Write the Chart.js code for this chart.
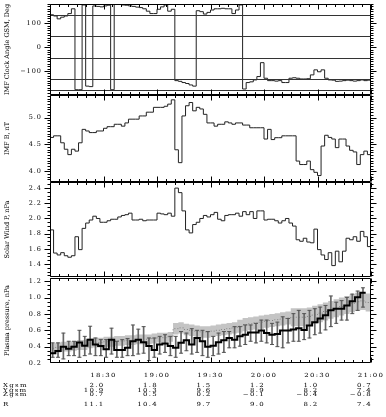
<!DOCTYPE html>
<html><head><meta charset="utf-8">
<script src="https://cdn.jsdelivr.net/npm/chart.js@4.4.1/dist/chart.umd.min.js"></script>
<style>
html,body{margin:0;padding:0;background:#fff;width:386px;height:417px;overflow:hidden;}
.c{position:absolute;left:0;width:386px;}
.t{position:absolute;font-family:"DejaVu Serif";font-size:7px;letter-spacing:1.3px;line-height:7px;height:7px;white-space:nowrap;color:#000;transform:scaleY(0.8);}
</style></head><body>
<div id="wrap" style="position:relative;width:386px;height:417px;">
<div class="c" style="top:0;height:100px"><canvas id="c1"></canvas></div>
<div class="c" style="top:91px;height:95px"><canvas id="c2"></canvas></div>
<div class="c" style="top:178px;height:103px"><canvas id="c3"></canvas></div>
<div class="c" style="top:273px;height:95px"><canvas id="c4"></canvas></div>
</div>
<script>
// ---------- DATA ----------
// time axis: minutes after 18:00
const timeTickMinutes = [30, 60, 90, 120, 150, 180];
const timeTickLabels = ['18:30', '19:00', '19:30', '20:00', '20:30', '21:00'];
const rowNames = ['Xgsm', 'Ygsm', 'Zgsm', 'R'];
const xgsm = ['2.0', '1.8', '1.5', '1.2', '1.0', '0.7'];
const ygsm = ['10.9', '10.3', '9.6', '8.9', '8.2', '7.4'];
const zgsm = ['0.7', '0.5', '0.2', '\u22120.1', '\u22120.4', '\u22120.8'];
const rdist = ['11.1', '10.4', '9.7', '9.0', '8.2', '7.4'];

// 2-minute samples, 18:00 - 21:00
const clockAngle = [135,130,118,125,130,140,160,-178,-178,176,-163,-165,172,170,168,172,175,-178,178,178,
  176,175,172,170,167,165,160,150,140,140,158,168,176,150,158,-140,-143,-148,-152,-158,
  -163,152,148,138,145,155,160,160,162,160,160,140,155,176,-175,-148,-145,-137,-123,-65,
  -130,-140,-140,-142,-140,-148,-148,-130,-128,-130,-133,-133,-132,-116,-95,-103,-95,-130,-137,-138,
  -143,-142,-140,-138,-140,-142,-140,-137,-140,-138];
const imfB = [4.63,4.66,4.66,4.53,4.41,4.31,4.41,4.375,4.53,4.78,4.75,4.72,4.72,4.75,4.75,4.8,4.83,4.83,4.875,4.875,
  4.84,4.9,4.97,4.97,4.97,5.03,5.03,5.1,5.1,5.19,5.19,5.19,5.21,5.25,5.33,4.4,4.16,5.03,5.22,5.28,
  5.125,5.19,5.16,5.06,4.9,4.9,4.84,4.875,4.875,4.92,4.9,4.875,4.9,4.9,4.86,4.86,4.81,4.81,4.81,4.81,
  4.6,4.78,4.59,4.625,4.625,4.66,4.66,4.66,4.66,4.19,4.125,4.125,4.19,4.03,3.98,3.92,4.47,4.67,4.63,4.6,
  4.44,4.6,4.6,4.47,4.39,4.36,4.125,4.31,4.375,4.31];
const swP = [1.85,1.545,1.52,1.55,1.51,1.49,1.51,1.76,1.59,1.87,1.94,1.98,2.03,2.0,1.95,1.95,1.97,1.99,1.99,2.02,
  2.04,2.05,2.07,1.98,1.98,1.99,1.97,1.98,1.98,1.98,2.07,2.06,2.05,2.07,2.03,2.4,2.34,2.1,1.85,1.81,
  1.92,1.95,2.0,2.04,2.02,2.05,2.08,1.99,1.97,2.04,2.05,2.05,2.07,2.03,2.09,2.05,2.09,2.0,2.1,2.1,
  1.98,1.99,1.99,1.97,1.94,1.97,2.0,1.94,1.9,1.72,1.70,1.74,1.69,1.68,1.86,1.59,1.52,1.46,1.55,1.38,
  1.57,1.43,1.57,1.74,1.72,1.76,1.70,1.83,1.76,1.63];

// 3-minute samples: observed plasma pressure with error bars
const plasmaObs = [0.32,0.347,0.40,0.375,0.40,0.45,0.41,0.486,0.427,0.407,0.367,0.486,0.359,0.359,0.387,0.466,0.486,0.455,0.407,0.359,
  0.427,0.439,0.407,0.387,0.447,0.478,0.427,0.506,0.466,0.40,0.41,0.454,0.478,0.506,0.486,0.526,0.546,0.574,0.574,0.597,
  0.566,0.546,0.556,0.597,0.597,0.61,0.625,0.605,0.66,0.70,0.745,0.784,0.844,0.864,0.864,0.904,0.955,1.003,1.06];
const plasmaErrHi = [0.446,0.446,0.566,0.466,0.466,0.60,0.526,0.65,0.506,0.486,0.486,0.626,0.466,0.486,0.50,0.665,0.614,0.645,0.506,0.506,
  0.526,0.546,0.526,0.526,0.585,0.566,0.62,0.60,0.60,0.585,0.526,0.566,0.585,0.585,0.645,0.645,0.665,0.665,0.685,0.725,
  0.725,0.685,0.70,0.765,0.745,0.804,0.844,0.804,0.844,0.864,0.884,0.904,1.02,0.944,0.963,1.003,1.043,1.08,1.12];
const plasmaErrLo = [0.27,0.27,0.25,0.29,0.29,0.27,0.29,0.31,0.29,0.29,0.27,0.31,0.27,0.27,0.29,0.29,0.31,0.32,0.23,0.27,
  0.31,0.33,0.29,0.27,0.32,0.35,0.31,0.33,0.29,0.27,0.29,0.31,0.33,0.386,0.386,0.406,0.426,0.466,0.446,0.466,
  0.446,0.426,0.40,0.386,0.446,0.466,0.466,0.486,0.506,0.546,0.566,0.605,0.645,0.685,0.725,0.725,0.804,0.844,0.884];
// model plasma pressure (grey) with its uncertainty band
const plasmaModel = [0.38,0.39,0.40,0.40,0.41,0.42,0.42,0.44,0.45,0.45,0.46,0.46,0.47,0.47,0.48,0.48,0.49,0.49,0.49,0.50,
  0.51,0.51,0.52,0.62,0.63,0.61,0.60,0.59,0.58,0.58,0.59,0.60,0.61,0.62,0.63,0.65,0.67,0.68,0.69,0.70,
  0.71,0.72,0.73,0.74,0.75,0.76,0.76,0.76,0.77,0.79,0.81,0.83,0.85,0.87,0.89,0.91,0.93,0.95,0.96,0.94];
const plasmaBandHi = [0.44,0.45,0.46,0.46,0.47,0.48,0.48,0.50,0.51,0.51,0.52,0.52,0.53,0.53,0.54,0.54,0.55,0.55,0.55,0.56,
  0.57,0.57,0.58,0.69,0.70,0.68,0.67,0.66,0.65,0.65,0.66,0.67,0.68,0.69,0.70,0.73,0.75,0.76,0.77,0.78,
  0.79,0.80,0.81,0.82,0.83,0.87,0.87,0.87,0.88,0.90,0.92,0.94,0.96,0.98,1.00,1.02,1.04,1.06,1.07,1.05];
const plasmaBandLo = [0.32,0.33,0.34,0.34,0.35,0.36,0.36,0.38,0.39,0.39,0.40,0.40,0.41,0.41,0.42,0.42,0.43,0.43,0.43,0.44,
  0.45,0.45,0.46,0.55,0.56,0.54,0.53,0.52,0.51,0.51,0.52,0.53,0.54,0.55,0.56,0.57,0.59,0.60,0.61,0.62,
  0.63,0.64,0.65,0.66,0.67,0.65,0.65,0.65,0.66,0.68,0.70,0.72,0.74,0.76,0.78,0.80,0.82,0.84,0.85,0.83];

const clockTicks = [-100, 0, 100];
const clockTickLabels = ['\u2212100', '0', '100'];
const clockRefLines = [135, 45, -45, -135, -180];
const imfTicks = [4.0, 4.5, 5.0];
const imfTickLabels = ['4.0', '4.5', '5.0'];
const swTicks = [1.4, 1.6, 1.8, 2.0, 2.2, 2.4];
const swTickLabels = ['1.4', '1.6', '1.8', '2.0', '2.2', '2.4'];
const plTicks = [0.2, 0.4, 0.6, 0.8, 1.0, 1.2];
const plTickLabels = ['0.2', '0.4', '0.6', '0.8', '1.0', '1.2'];

// ---------- HELPERS ----------
const FONT = 'DejaVu Serif';
function steps(values, dt) {
  const pts = values.map((v, i) => ({x: i * dt, y: v}));
  pts.push({x: values.length * dt, y: values[values.length - 1]});
  return pts;
}

const deco = {
  id: 'deco',
  beforeDraw(chart) { chart.ctx.letterSpacing = '1px'; },
  afterDatasetsDraw(chart, args, o) {
    const {ctx, chartArea: a, scales: {x, y}} = chart;
    ctx.save();
    ctx.letterSpacing = '0px';
    ctx.lineWidth = 1;
    const L = Math.round(a.left) + 0.5, R = Math.round(a.right) - 0.5;
    const T = Math.round(a.top) + 0.5, B = Math.round(a.bottom) - 0.5;
    ctx.beginPath();
    (o.hlines || []).forEach(v => {
      const py = Math.round(y.getPixelForValue(v)) + 0.5;
      ctx.moveTo(L, py); ctx.lineTo(R, py);
    });
    ctx.strokeStyle = '#333';
    ctx.stroke();
    ctx.strokeStyle = '#000';
    ctx.beginPath();
    ctx.rect(L, T, R - L, B - T);
    const eps = 1e-9;
    for (let v = o.yMin; v <= o.yMax + eps; v += o.yMinor) {
      const vv = Math.round(v / o.yMinor) * o.yMinor;
      const py = Math.round(y.getPixelForValue(vv)) + 0.5;
      if (py < T - 0.1 || py > B + 0.1) continue;
      const major = o.yMajor.some(m => Math.abs(m - vv) < o.yMinor / 10);
      const len = major ? 6 : 3;
      ctx.moveTo(L - len, py); ctx.lineTo(L, py);
      ctx.moveTo(R, py); ctx.lineTo(R + len, py);
    }
    for (let m = 0; m <= 180; m += 5) {
      const px = Math.round(x.getPixelForValue(m)) + 0.5;
      const len = (m % 30 === 0) ? 5 : 2.5;
      ctx.moveTo(px, T); ctx.lineTo(px, T + len);
      ctx.moveTo(px, B); ctx.lineTo(px, B - len);
    }
    ctx.stroke();
    ctx.restore();
  }
};

function yScale(min, max, ticks, labels, title) {
  return {
    type: 'linear', position: 'left', min, max,
    afterBuildTicks: s => { s.ticks = ticks.map(v => ({value: v})); },
    afterFit: s => {
      s.width = 50; s.paddingTop = 0; s.paddingBottom = 0;
      if (!s._titleWrapped) {
        const orig = s.drawTitle;
        s.drawTitle = function () {
          const c = this.ctx; const ls = c.letterSpacing;
          c.letterSpacing = '0px'; orig.call(this); c.letterSpacing = ls;
        };
        s._titleWrapped = true;
      }
    },
    grid: {display: false, drawTicks: false},
    border: {display: false},
    ticks: {
      padding: 8, color: '#000', font: {family: FONT, size: 6.5},
      callback: (v) => { const k = ticks.findIndex(t => Math.abs(t - v) < 1e-6); return k >= 0 ? labels[k] : ''; }
    },
    title: {display: true, text: title, color: '#000', font: {family: FONT, size: 6.5}, padding: {top: 3.5, bottom: 0}}
  };
}
const xScale = {type: 'linear', min: 0, max: 180, display: false, offset: false};

function baseOptions(padTop, padBottom, ys, decoOpts) {
  return {
    responsive: true, maintainAspectRatio: false, animation: false,
    layout: {padding: {left: 0, right: 15, top: padTop, bottom: padBottom}},
    plugins: {legend: {display: false}, tooltip: {enabled: false}, deco: decoOpts},
    elements: {point: {radius: 0}},
    scales: {x: xScale, y: ys}
  };
}
function stepLine(values, dt, color, width) {
  return {data: steps(values, dt), stepped: true, borderColor: color, borderWidth: width, pointRadius: 0, fill: false};
}

new Chart(document.getElementById('c1'), {
  type: 'line',
  data: {datasets: [stepLine(clockAngle, 2, '#222', 1)]},
  options: baseOptions(4, 5, yScale(-200, 180, clockTicks, clockTickLabels, 'IMF Clock Angle GSM, Deg'),
    {hlines: clockRefLines, yMin: -200, yMax: 180, yMinor: 10, yMajor: clockTicks}),
  plugins: [deco]
});
new Chart(document.getElementById('c2'), {
  type: 'line',
  data: {datasets: [stepLine(imfB, 2, '#222', 1)]},
  options: baseOptions(4, 4, yScale(3.8, 5.42, imfTicks, imfTickLabels, 'IMF B, nT'),
    {yMin: 3.8, yMax: 5.4, yMinor: 0.05, yMajor: imfTicks}),
  plugins: [deco]
});
new Chart(document.getElementById('c3'), {
  type: 'line',
  data: {datasets: [stepLine(swP, 2, '#222', 1)]},
  options: baseOptions(4, 4, yScale(1.23, 2.48, swTicks, swTickLabels, 'Solar Wind P, nPa'),
    {yMin: 1.25, yMax: 2.45, yMinor: 0.05, yMajor: swTicks}),
  plugins: [deco]
});
const c4 = new Chart(document.getElementById('c4'), {
  type: 'line',
  data: {datasets: [
    stepLine(plasmaObs, 3, '#000', 2),
    {data: plasmaErrHi.map((v, i) => ({x: i * 3 + 1.5, y: v})), showLine: false, pointStyle: 'line', pointRadius: 2,
     pointBorderWidth: 1, pointBorderColor: '#555'},
    {data: plasmaErrLo.map((v, i) => ({x: i * 3 + 1.5, y: v})), showLine: false, pointStyle: 'line', pointRadius: 2,
     pointBorderWidth: 1, pointBorderColor: '#555'},
    {type: 'bar', data: plasmaErrHi.map((v, i) => ({x: i * 3 + 1.5, y: [plasmaErrLo[i], v]})),
     barThickness: 1, backgroundColor: '#666', borderWidth: 0},
    Object.assign(stepLine(plasmaModel, 3, '#808080', 1), {borderDash: [1, 2]}),
    Object.assign(stepLine(plasmaBandHi, 3, 'rgba(0,0,0,0)', 0), {fill: '+1', backgroundColor: '#c4c4c4'}),
    stepLine(plasmaBandLo, 3, 'rgba(0,0,0,0)', 0)
  ]},
  options: baseOptions(4, 5, yScale(0.2, 1.24, plTicks, plTickLabels, 'Plasma pressure, nPa'),
    {yMin: 0.2, yMax: 1.2, yMinor: 0.05, yMajor: plTicks}),
  plugins: [deco]
});

const wrap = document.getElementById('wrap');
function addText(txt, left, top, align) {
  const d = document.createElement('div');
  d.className = 't';
  d.textContent = txt;
  wrap.appendChild(d);
  const w = d.getBoundingClientRect().width;
  let l = left;
  if (align === 'center') l = left - w / 2;
  if (align === 'right') l = left - w;
  d.style.left = l + 'px';
  d.style.top = (top - 3.5) + 'px';
}
const rowsY = [385.7, 390.2, 394.7, 404.7];
const rows = [xgsm, ygsm, zgsm, rdist];
rowNames.forEach((n, r) => addText(n, 3, rowsY[r], 'left'));
timeTickMinutes.forEach((m, k) => {
  const px = c4.scales.x.getPixelForValue(m);
  addText(timeTickLabels[k], px, 375, 'center');
  rows.forEach((arr, r) => addText(arr[k], px + 1, rowsY[r], 'right'));
});
</script>
</body></html>
